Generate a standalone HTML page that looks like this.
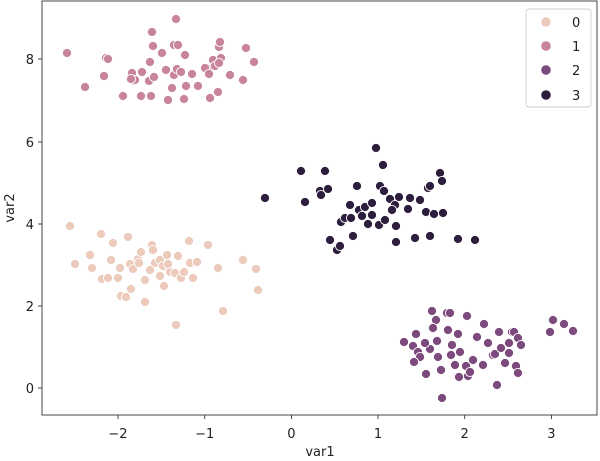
<!DOCTYPE html>
<html><head><meta charset="utf-8"><style>
html,body{margin:0;padding:0;background:#fff}
svg{display:block;font-family:"DejaVu Sans","Liberation Sans",sans-serif}
</style></head><body>
<svg width="600" height="461" viewBox="0 0 600 461" xmlns="http://www.w3.org/2000/svg">
<rect x="0" y="0" width="600" height="461" fill="#fff"/>
<g stroke="#fff" stroke-width="0.9">
<g fill="#c8849b">
<circle cx="67" cy="53" r="4.6"/><circle cx="85" cy="87" r="4.6"/><circle cx="106" cy="58" r="4.6"/><circle cx="108" cy="59" r="4.6"/><circle cx="104" cy="76" r="4.6"/><circle cx="132" cy="73" r="4.6"/><circle cx="134" cy="81" r="4.6"/><circle cx="152" cy="32" r="4.6"/><circle cx="153" cy="46" r="4.6"/><circle cx="176" cy="19" r="4.6"/><circle cx="174" cy="45" r="4.6"/><circle cx="178" cy="45" r="4.6"/><circle cx="185" cy="55" r="4.6"/><circle cx="162" cy="53" r="4.6"/><circle cx="150" cy="62" r="4.6"/><circle cx="142" cy="72" r="4.6"/><circle cx="149" cy="81" r="4.6"/><circle cx="154" cy="77" r="4.6"/><circle cx="141" cy="96" r="4.6"/><circle cx="123" cy="96" r="4.6"/><circle cx="151" cy="96" r="4.6"/><circle cx="168" cy="100" r="4.6"/><circle cx="184" cy="99" r="4.6"/><circle cx="198" cy="86" r="4.6"/><circle cx="210" cy="98" r="4.6"/><circle cx="209" cy="69" r="4.6"/><circle cx="213" cy="60" r="4.6"/><circle cx="221" cy="58" r="4.6"/><circle cx="215" cy="66" r="4.6"/><circle cx="219" cy="47" r="4.6"/><circle cx="220" cy="42" r="4.6"/><circle cx="230" cy="75" r="4.6"/><circle cx="218" cy="92" r="4.6"/><circle cx="243" cy="80" r="4.6"/><circle cx="246" cy="48" r="4.6"/><circle cx="254" cy="62" r="4.6"/><circle cx="174" cy="75" r="4.6"/><circle cx="177" cy="69" r="4.6"/><circle cx="181" cy="72" r="4.6"/><circle cx="166" cy="70" r="4.6"/><circle cx="186" cy="86" r="4.6"/><circle cx="172" cy="88" r="4.6"/><circle cx="192" cy="74" r="4.6"/><circle cx="205" cy="68" r="4.6"/><circle cx="209" cy="74" r="4.6"/><circle cx="219" cy="63" r="4.6"/><circle cx="135" cy="80" r="4.6"/><circle cx="131" cy="79" r="4.6"/>
</g>
<g fill="#eccbbd">
<circle cx="70" cy="226" r="4.6"/><circle cx="75" cy="264" r="4.6"/><circle cx="90" cy="255" r="4.6"/><circle cx="92" cy="268" r="4.6"/><circle cx="101" cy="234" r="4.6"/><circle cx="102" cy="279" r="4.6"/><circle cx="108" cy="278" r="4.6"/><circle cx="113" cy="243" r="4.6"/><circle cx="118" cy="278" r="4.6"/><circle cx="121" cy="296" r="4.6"/><circle cx="128" cy="237" r="4.6"/><circle cx="130" cy="264" r="4.6"/><circle cx="133" cy="269" r="4.6"/><circle cx="138" cy="259" r="4.6"/><circle cx="139" cy="263" r="4.6"/><circle cx="145" cy="302" r="4.6"/><circle cx="152" cy="245" r="4.6"/><circle cx="153" cy="250" r="4.6"/><circle cx="155" cy="263" r="4.6"/><circle cx="160" cy="260" r="4.6"/><circle cx="163" cy="266" r="4.6"/><circle cx="167" cy="255" r="4.6"/><circle cx="170" cy="272" r="4.6"/><circle cx="175" cy="273" r="4.6"/><circle cx="178" cy="256" r="4.6"/><circle cx="176" cy="325" r="4.6"/><circle cx="181" cy="278" r="4.6"/><circle cx="184" cy="272" r="4.6"/><circle cx="189" cy="241" r="4.6"/><circle cx="190" cy="263" r="4.6"/><circle cx="193" cy="278" r="4.6"/><circle cx="208" cy="245" r="4.6"/><circle cx="197" cy="262" r="4.6"/><circle cx="223" cy="311" r="4.6"/><circle cx="243" cy="260" r="4.6"/><circle cx="256" cy="269" r="4.6"/><circle cx="258" cy="290" r="4.6"/><circle cx="218" cy="268" r="4.6"/><circle cx="160" cy="276" r="4.6"/><circle cx="145" cy="280" r="4.6"/><circle cx="131" cy="289" r="4.6"/><circle cx="126" cy="297" r="4.6"/><circle cx="168" cy="264" r="4.6"/><circle cx="164" cy="286" r="4.6"/><circle cx="150" cy="270" r="4.6"/><circle cx="141" cy="252" r="4.6"/><circle cx="120" cy="268" r="4.6"/><circle cx="111" cy="260" r="4.6"/>
</g>
<g fill="#2d1e3e">
<circle cx="265" cy="198" r="4.6"/><circle cx="301" cy="171" r="4.6"/><circle cx="305" cy="202" r="4.6"/><circle cx="320" cy="191" r="4.6"/><circle cx="325" cy="171" r="4.6"/><circle cx="328" cy="189" r="4.6"/><circle cx="321" cy="195" r="4.6"/><circle cx="330" cy="240" r="4.6"/><circle cx="337" cy="250" r="4.6"/><circle cx="340" cy="246" r="4.6"/><circle cx="341" cy="222" r="4.6"/><circle cx="345" cy="218" r="4.6"/><circle cx="351" cy="218" r="4.6"/><circle cx="353" cy="236" r="4.6"/><circle cx="357" cy="186" r="4.6"/><circle cx="359" cy="210" r="4.6"/><circle cx="362" cy="216" r="4.6"/><circle cx="365" cy="207" r="4.6"/><circle cx="372" cy="203" r="4.6"/><circle cx="372" cy="215" r="4.6"/><circle cx="376" cy="148" r="4.6"/><circle cx="379" cy="225" r="4.6"/><circle cx="380" cy="186" r="4.6"/><circle cx="383" cy="165" r="4.6"/><circle cx="384" cy="191" r="4.6"/><circle cx="385" cy="220" r="4.6"/><circle cx="390" cy="199" r="4.6"/><circle cx="395" cy="205" r="4.6"/><circle cx="396" cy="226" r="4.6"/><circle cx="396" cy="242" r="4.6"/><circle cx="399" cy="197" r="4.6"/><circle cx="408" cy="209" r="4.6"/><circle cx="415" cy="238" r="4.6"/><circle cx="426" cy="212" r="4.6"/><circle cx="428" cy="188" r="4.6"/><circle cx="430" cy="186" r="4.6"/><circle cx="434" cy="214" r="4.6"/><circle cx="440" cy="173" r="4.6"/><circle cx="442" cy="181" r="4.6"/><circle cx="443" cy="213" r="4.6"/><circle cx="458" cy="239" r="4.6"/><circle cx="475" cy="240" r="4.6"/><circle cx="430" cy="236" r="4.6"/><circle cx="420" cy="200" r="4.6"/><circle cx="410" cy="198" r="4.6"/><circle cx="392" cy="210" r="4.6"/><circle cx="368" cy="224" r="4.6"/><circle cx="350" cy="205" r="4.6"/>
</g>
<g fill="#7d4a7e">
<circle cx="404" cy="342" r="4.6"/><circle cx="413" cy="346" r="4.6"/><circle cx="416" cy="334" r="4.6"/><circle cx="418" cy="352" r="4.6"/><circle cx="420" cy="357" r="4.6"/><circle cx="414" cy="362" r="4.6"/><circle cx="426" cy="374" r="4.6"/><circle cx="430" cy="349" r="4.6"/><circle cx="432" cy="311" r="4.6"/><circle cx="436" cy="320" r="4.6"/><circle cx="437" cy="341" r="4.6"/><circle cx="438" cy="357" r="4.6"/><circle cx="441" cy="370" r="4.6"/><circle cx="442" cy="398" r="4.6"/><circle cx="447" cy="313" r="4.6"/><circle cx="448" cy="330" r="4.6"/><circle cx="450" cy="313" r="4.6"/><circle cx="451" cy="355" r="4.6"/><circle cx="455" cy="365" r="4.6"/><circle cx="458" cy="334" r="4.6"/><circle cx="459" cy="377" r="4.6"/><circle cx="466" cy="366" r="4.6"/><circle cx="467" cy="316" r="4.6"/><circle cx="468" cy="376" r="4.6"/><circle cx="477" cy="337" r="4.6"/><circle cx="484" cy="324" r="4.6"/><circle cx="488" cy="343" r="4.6"/><circle cx="493" cy="355" r="4.6"/><circle cx="495" cy="354" r="4.6"/><circle cx="497" cy="385" r="4.6"/><circle cx="499" cy="332" r="4.6"/><circle cx="501" cy="348" r="4.6"/><circle cx="505" cy="363" r="4.6"/><circle cx="509" cy="343" r="4.6"/><circle cx="512" cy="332" r="4.6"/><circle cx="514" cy="332" r="4.6"/><circle cx="516" cy="366" r="4.6"/><circle cx="518" cy="338" r="4.6"/><circle cx="521" cy="345" r="4.6"/><circle cx="470" cy="372" r="4.6"/><circle cx="473" cy="360" r="4.6"/><circle cx="452" cy="345" r="4.6"/><circle cx="433" cy="328" r="4.6"/><circle cx="509" cy="353" r="4.6"/><circle cx="518" cy="373" r="4.6"/><circle cx="550" cy="332" r="4.6"/><circle cx="553" cy="320" r="4.6"/><circle cx="564" cy="324" r="4.6"/><circle cx="573" cy="331" r="4.6"/><circle cx="460" cy="352" r="4.6"/><circle cx="425" cy="343" r="4.6"/><circle cx="483" cy="365" r="4.6"/>
</g>
</g>
<rect x="42" y="1" width="555" height="414" fill="none" stroke="#333" stroke-width="0.9"/>
<g stroke="#333" stroke-width="0.9">
<line x1="118" y1="415" x2="118" y2="419"/><line x1="204.7" y1="415" x2="204.7" y2="419"/><line x1="291.4" y1="415" x2="291.4" y2="419"/><line x1="378" y1="415" x2="378" y2="419"/><line x1="464.7" y1="415" x2="464.7" y2="419"/><line x1="551.4" y1="415" x2="551.4" y2="419"/>
<line x1="38" y1="388" x2="42" y2="388"/><line x1="38" y1="306" x2="42" y2="306"/><line x1="38" y1="224" x2="42" y2="224"/><line x1="38" y1="142" x2="42" y2="142"/><line x1="38" y1="59" x2="42" y2="59"/>
</g>
<g font-size="13" fill="#222" text-anchor="middle">
<text x="118" y="438">−2</text><text x="204.7" y="438">−1</text><text x="291.4" y="438">0</text><text x="378" y="438">1</text><text x="464.7" y="438">2</text><text x="551.4" y="438">3</text>
<text x="320" y="456">var1</text>
</g>
<g font-size="13" fill="#222" text-anchor="end">
<text x="34" y="393">0</text><text x="34" y="311">2</text><text x="34" y="229">4</text><text x="34" y="147">6</text><text x="34" y="64">8</text>
</g>
<text x="14" y="208" font-size="13" fill="#222" text-anchor="middle" transform="rotate(-90 14 208)">var2</text>
<rect x="526" y="9" width="65" height="98" rx="3" fill="#fff" fill-opacity="0.85" stroke="#ccc" stroke-width="0.9"/>
<circle cx="546" cy="22" r="4.8" fill="#eccbbd"/><circle cx="546" cy="46" r="4.8" fill="#c8849b"/><circle cx="546" cy="70" r="4.8" fill="#7d4a7e"/><circle cx="546" cy="95" r="4.8" fill="#2d1e3e"/>
<g font-size="13" fill="#222"><text x="572" y="27">0</text><text x="572" y="51">1</text><text x="572" y="75">2</text><text x="572" y="100">3</text></g>
</svg>
</body></html>
